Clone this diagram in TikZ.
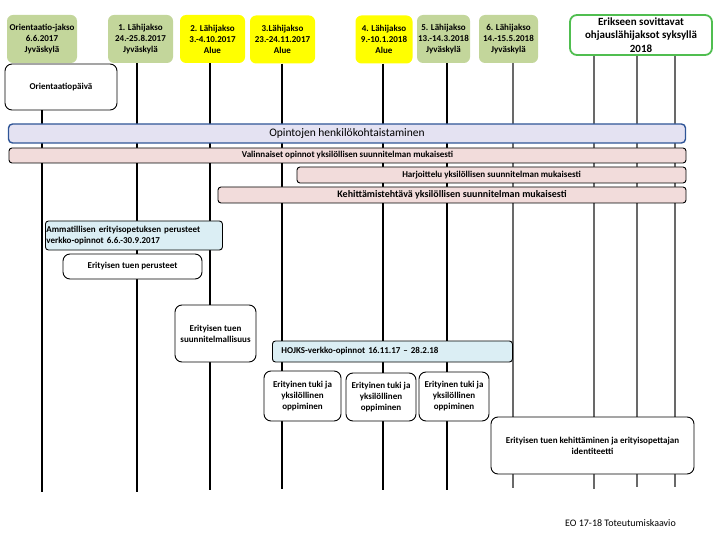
\documentclass[tikz,border=0pt]{standalone}
\usepackage{fontspec}
\setmainfont{Carlito}
\definecolor{jaksogreen}{RGB}{195,214,155}
\definecolor{jaksoyellow}{RGB}{255,255,0}
\definecolor{syksygreen}{RGB}{80,190,80}
\definecolor{henklila}{RGB}{228,226,242}
\definecolor{henkblue}{RGB}{47,85,151}
\definecolor{barpink}{RGB}{242,220,219}
\definecolor{netblue}{RGB}{219,238,244}
\definecolor{lategray}{RGB}{105,105,105}

\begin{document}
\begin{tikzpicture}[x=1pt, y=-1pt, jakso/.style={rounded corners=6pt, align=center, inner sep=0pt, minimum height=48pt, font=\fontsize{9}{11}\selectfont\bfseries}, box/.style={draw, fill=white, rounded corners=7pt, align=center, inner sep=0pt, line width=0.9pt, font=\fontsize{9}{11}\selectfont\bfseries}, bar/.style={draw, fill=barpink, rounded corners=3pt, inner sep=0pt, line width=0.9pt, font=\fontsize{9}{11}\selectfont\bfseries}, net/.style={draw, fill=netblue, rounded corners=3pt, anchor=west, align=left, inner ysep=0pt, line width=0.9pt, font=\fontsize{9}{11}\selectfont\bfseries}, tl/.style={line width=1.6pt}, tlg/.style={line width=1.3pt, draw=lategray}]
    \useasboundingbox (0,0) rectangle (720,540);
    \node[jakso, fill=jaksogreen, minimum width=70pt] (lj0) at (42,39) {Orientaatio-jakso\\6.6.2017\\Jyväskylä};
    \node[jakso, fill=jaksogreen, minimum width=65pt] (lj1) at (140.5,39) {1. Lähijakso\\24.-25.8.2017\\Jyväskylä};
    \node[jakso, fill=jaksoyellow, minimum width=65pt] (lj2) at (212.5,39) {2. Lähijakso\\3.-4.10.2017\\Alue};
    \node[jakso, fill=jaksoyellow, minimum width=65pt] (lj3) at (282.5,39.5) {3.Lähijakso\\23.-24.11.2017\\Alue};
    \node[jakso, fill=jaksoyellow, minimum width=57pt] (lj4) at (384,39.5) {4. Lähijakso\\9.-10.1.2018\\Alue};
    \node[jakso, fill=jaksogreen, minimum width=53pt] (lj5) at (443.5,39) {5. Lähijakso\\13.-14.3.2018\\Jyväskylä};
    \node[jakso, fill=jaksogreen, minimum width=59pt] (lj6) at (508.5,39) {6. Lähijakso\\14.-15.5.2018\\Jyväskylä};
    \node[box, draw=syksygreen, line width=1.8pt, minimum width=142pt, minimum height=40pt, font=\fontsize{11}{13.2}\selectfont\bfseries] (syksy) at (641,35) {Erikseen sovittavat\\ohjauslähijaksot syksyllä\\2018};
    \node[box, minimum width=112pt, minimum height=46pt] (orpv) at (61,87) {Orientaatiopäivä};
    \coordinate (e0) at (42,492);
    \coordinate (e1) at (137,492);
    \coordinate (e2) at (210,490);
    \coordinate (e3) at (282,489);
    \coordinate (e4) at (383,490);
    \coordinate (e5) at (447,490);
    \coordinate (e6) at (513,488);
    \coordinate (e7) at (594,489);
    \coordinate (e8) at (637,487);
    \coordinate (e9) at (675,487);
    \draw[tl] (orpv.south -| e0) -- (e0);
    \draw[tl] (lj1.south -| e1) -- (e1);
    \draw[tl] (lj2.south -| e2) -- (e2);
    \draw[tl] (lj3.south -| e3) -- (e3);
    \draw[tl] (lj4.south -| e4) -- (e4);
    \draw[tl] (lj5.south -| e5) -- (e5);
    \draw[tlg] (lj6.south -| e6) -- (e6);
    \draw[tlg] (syksy.south -| e7) -- (e7);
    \draw[tlg] (syksy.south -| e8) -- (e8);
    \draw[tlg] (syksy.south -| e9) -- (e9);
    \node[draw=henkblue, fill=henklila, rounded corners=4pt, line width=1.4pt, inner sep=0pt, minimum width=677pt, minimum height=19pt, font=\fontsize{11.5}{13}\selectfont] (henk) at (347,133.5) {Opintojen henkilökohtaistaminen};
    \node[bar, minimum width=677pt, minimum height=15pt] (valin) at (347.5,155.5) {Valinnaiset opinnot yksilöllisen suunnitelman mukaisesti};
    \node[bar, minimum width=389pt, minimum height=16pt] (harj) at (491.5,175) {Harjoittelu yksilöllisen suunnitelman mukaisesti};
    \node[bar, minimum width=468pt, minimum height=16pt, font=\fontsize{10}{12}\selectfont\bfseries] (kehtv) at (452,195) {Kehittämistehtävä yksilöllisen suunnitelman mukaisesti};
    \node[net, inner xsep=1pt, text width=175pt, minimum height=29pt] (amm) at (45,235.5) {Ammatillisen erityisopetuksen perusteet\\verkko-opinnot 6.6.-30.9.2017};
    \node[box, minimum width=139pt, minimum height=25pt] (perus) at (132.5,266.5) {Erityisen tuen perusteet};
    \node[box, minimum width=81pt, minimum height=57pt] (suunn) at (215.5,333.5) {Erityisen tuen\\suunnitelmallisuus};
    \node[net, inner xsep=9pt, text width=222pt, minimum height=21pt] (hojks) at (272,351.5) {HOJKS-verkko-opinnot 16.11.17 – 28.2.18};
    \node[box, minimum width=77pt, minimum height=50pt] (tuki1) at (302.5,396) {Erityinen tuki ja\\yksilöllinen\\oppiminen};
    \node[box, minimum width=70pt, minimum height=48pt] (tuki2) at (381,397) {Erityinen tuki ja\\yksilöllinen\\oppiminen};
    \node[box, minimum width=70pt, minimum height=49pt] (tuki3) at (454,396.5) {Erityinen tuki ja\\yksilöllinen\\oppiminen};
    \node[box, minimum width=203pt, minimum height=57pt] (ident) at (592.5,445.5) {Erityisen tuen kehittäminen ja erityisopettajan\\identiteetti};
    \node[anchor=west, inner sep=0pt, font=\fontsize{10}{12}\selectfont] (kaavio) at (565,523) {EO 17-18 Toteutumiskaavio};
  \end{tikzpicture}
\end{document}
